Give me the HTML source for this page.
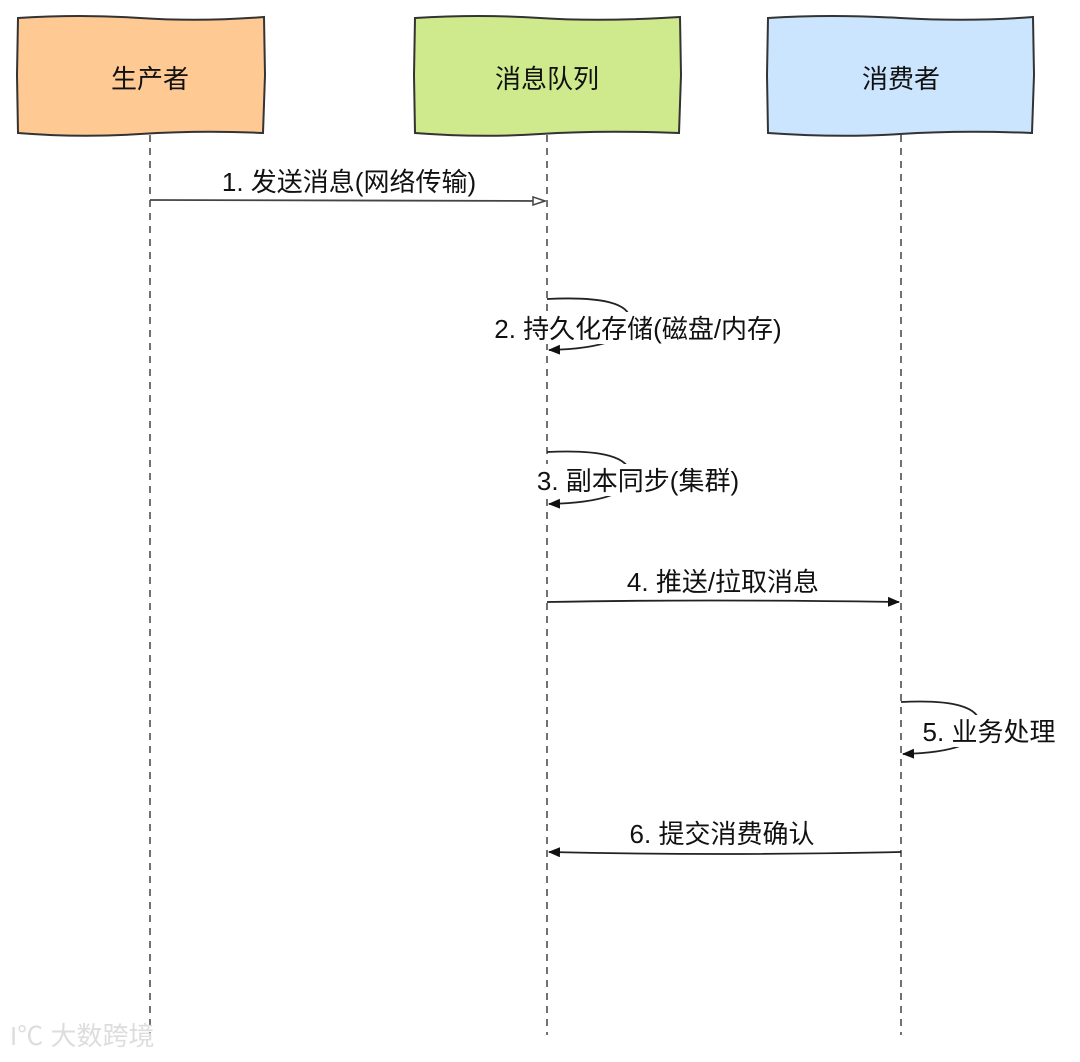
<!DOCTYPE html>
<html><head><meta charset="utf-8"><style>
html,body{margin:0;padding:0;background:#fff;}
svg text{font-family:"Liberation Sans","Noto Sans CJK SC",sans-serif;font-size:26px;fill:#111;}
</style></head><body>
<svg width="1080" height="1057" viewBox="0 0 1080 1057" xmlns="http://www.w3.org/2000/svg">
<defs>
<marker id="a" markerWidth="12" markerHeight="10" refX="11" refY="5" orient="auto" markerUnits="userSpaceOnUse"><path d="M0,0 L12,5 L0,10 Z" fill="#111"/></marker>
<marker id="o" markerWidth="14" markerHeight="10" refX="13" refY="5" orient="auto" markerUnits="userSpaceOnUse"><path d="M1,1 L13,5 L1,9 Z" fill="#fff" stroke="#444" stroke-width="1.5"/></marker>
</defs>
<g stroke="#333" stroke-width="2">
<path d="M18,18 Q80,14 140,18 T264,17 L265,75 L263,133 Q200,130 140,134 T18,133 L17,75 Z" fill="#ffc994"/>
<path d="M415,18 Q480,14 540,18 T680,17 L681,75 L679,133 Q600,130 540,134 T415,133 L414,75 Z" fill="#cfea8c"/>
<path d="M768,18 Q830,14 900,18 T1033,17 L1034,75 L1032,133 Q960,130 900,134 T768,133 L767,75 Z" fill="#cce5ff"/>
</g>
<text x="150" y="88" text-anchor="middle" font-size="28">生产者</text>
<text x="547" y="88" text-anchor="middle" font-size="28">消息队列</text>
<text x="901" y="88" text-anchor="middle" font-size="28">消费者</text>
<g stroke="#444" stroke-width="1.5" stroke-dasharray="7,6" fill="none">
<line x1="150" y1="135" x2="150" y2="1035"/>
<line x1="547" y1="135" x2="547" y2="1035"/>
<line x1="901" y1="135" x2="901" y2="1035"/>
</g>
<g stroke="#222" stroke-width="1.8" fill="none">
<path d="M150,200 L545,201" marker-end="url(#o)" stroke="#444"/>
<path d="M547,299 Q630,295 630,320 Q630,348 549,350" marker-end="url(#a)"/>
<path d="M547,452 Q630,448 630,475 Q630,502 549,504" marker-end="url(#a)"/>
<path d="M547,602 Q700,599 899,602" marker-end="url(#a)"/>
<path d="M901,702 Q980,698 980,725 Q980,752 903,754" marker-end="url(#a)"/>
<path d="M901,852 Q720,856 549,852" marker-end="url(#a)"/>
</g>
<g>
<rect x="484" y="312" width="308" height="32" fill="#fff"/>
<rect x="531" y="464" width="216" height="32" fill="#fff"/>
<rect x="918" y="715" width="142" height="32" fill="#fff"/>
</g>
<text x="349" y="191" text-anchor="middle">1. 发送消息(网络传输)</text>
<text x="638" y="338" text-anchor="middle">2. 持久化存储(磁盘/内存)</text>
<text x="638" y="490" text-anchor="middle">3. 副本同步(集群)</text>
<text x="723" y="591" text-anchor="middle">4. 推送/拉取消息</text>
<text x="989" y="741" text-anchor="middle">5. 业务处理</text>
<text x="722" y="843" text-anchor="middle">6. 提交消费确认</text>
<text x="10" y="1045" font-size="20" style="fill:#ddd">I℃ 大数跨境</text>
</svg>
</body></html>
